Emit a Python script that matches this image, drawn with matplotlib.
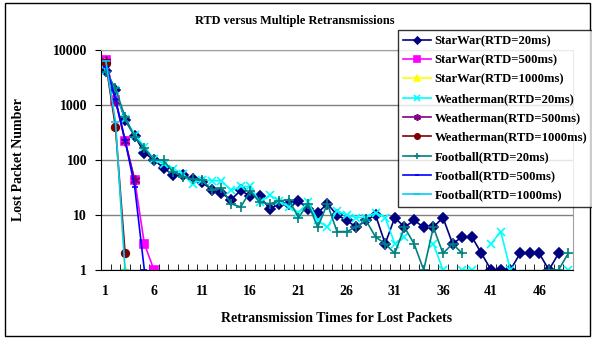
import numpy as np
import matplotlib.pyplot as plt
from matplotlib.patches import Rectangle
from matplotlib.ticker import FixedLocator, NullFormatter

plt.rcParams['font.family'] = ['Liberation Serif', 'DejaVu Serif']
plt.rcParams['font.weight'] = 'bold'

nan = np.nan

# values (lost packets per retransmission round)
starwar_20 = [4200, 1880, 530, 275, 135, 100, 72, 53, 53, 45, 39, 29, 25, 19, 28, 22,
              22, 13, 16, 16, 18, 13, 11, 16, 10, 8, 6, 8, 10, 3, 9, 6, 8, 6, 6, 9,
              3, 4, 4, 2, 1, 1, 1, 2, 2, 2, 1, 2]
starwar_500 = [6600, 1240, 225, 43, 3, 1]
starwar_1000 = [6000, 420, 1]
weather_20 = [4300, 1900, 560, 290, 175, 103, 85, 70, 55, 37, 44, 42, 42, 28, 33, 33,
              17, 23, 18, 14, 11, 17, 8, 6, 12, 10, 9, 9, 11, 9, 3, 4, nan, nan, 3, 1,
              nan, 1, 1, nan, 3, 5, 1, nan, nan, nan, nan, nan, 1]
weather_500 = [6200, 1200, 220, 43]
weather_1000 = [5700, 400, 2]
football_20 = [4000, 2000, 600, 260, 165, 100, 98, 60, 50, 45, 43, 29, 31, 16, 14, 27,
               17, 16, 18, 19, 9, 16, 6, 16, 5, 5, 6, 8, 4, 3, 2, 6, 3, 1, 6, 2,
               3, 2, nan, nan, nan, nan, nan, nan, nan, nan, 1, 1, 2]
football_500 = [5000, 1300, 230, 32, 1]
football_1000 = [6300, 500, 1]

series = [
    ("StarWar(RTD=20ms)", starwar_20, "#000080", "D", 5),
    ("StarWar(RTD=500ms)", starwar_500, "#FF00FF", "s", 5.5),
    ("StarWar(RTD=1000ms)", starwar_1000, "#FFFF00", "^", 6),
    ("Weatherman(RTD=20ms)", weather_20, "#00FFFF", "x", 6),
    ("Weatherman(RTD=500ms)", weather_500, "#800080", (6, 2, 0), 7),
    ("Weatherman(RTD=1000ms)", weather_1000, "#800000", "o", 5.5),
    ("Football(RTD=20ms)", football_20, "#008080", "+", 7),
    ("Football(RTD=500ms)", football_500, "#0000FF", "_", 5),
    ("Football(RTD=1000ms)", football_1000, "#00CCFF", "_", 6),
]

fig = plt.figure(figsize=(5.92, 3.38), dpi=100)
ax = fig.add_axes([101 / 592, 1 - 270 / 338, (573 - 101) / 592, 220 / 338])

for label, vals, color, marker, ms in series:
    x = np.arange(1, len(vals) + 1)
    ax.plot(x, vals, color=color, marker=marker, markersize=ms, linewidth=1.2,
            markeredgewidth=1.2, label=label)

ax.set_yscale('log')
ax.set_ylim(1, 10000)
ax.set_xlim(0.5, 49.5)
ax.set_yticks([1, 10, 100, 1000, 10000])
ax.set_yticklabels(['1', '10', '100', '1000', '10000'])
ax.yaxis.set_minor_locator(FixedLocator([]))
ax.yaxis.set_minor_formatter(NullFormatter())
ax.grid(axis='y', color='#808080', linewidth=1)
ax.set_axisbelow(True)

ax.set_xticks(range(1, 50, 5))
ax.set_xticks(np.arange(0.5, 50, 1), minor=True)
ax.tick_params(axis='x', which='major', length=0, pad=11, labelsize=10)
ax.tick_params(axis='x', which='minor', direction='in', length=4, color='black')
ax.tick_params(axis='y', which='major', direction='out', length=4, labelsize=10,
               pad=6)

for side in ['top', 'right']:
    ax.spines[side].set_color('#A0A0A0')
ax.spines['left'].set_color('black')
ax.spines['bottom'].set_color('black')

ax.set_xlabel('Retransmission Times for Lost Packets', fontsize=10,
              fontweight='bold', labelpad=10)
ax.set_ylabel('Lost Packet Number', fontsize=10, fontweight='bold', labelpad=20)
fig.text(295 / 592, 1 - 21 / 338, 'RTD versus Multiple Retransmissions',
         ha='center', va='center', fontsize=8.8, fontweight='bold')

leg = fig.legend(loc='upper left', bbox_to_anchor=(398 / 592, 1 - 30 / 338),
                 frameon=True, fancybox=False, fontsize=9.1, borderaxespad=0,
                 handlelength=2.2, handletextpad=0.3, labelspacing=0.58,
                 borderpad=0.4, markerscale=0.7)
leg.get_frame().set_edgecolor('black')
leg.get_frame().set_linewidth(1)

fig.patches.append(Rectangle((5 / 592, 2 / 338), 585 / 592, 333 / 338,
                             transform=fig.transFigure, fill=False,
                             edgecolor='black', linewidth=1))

fig.savefig('out.png', dpi=100)
